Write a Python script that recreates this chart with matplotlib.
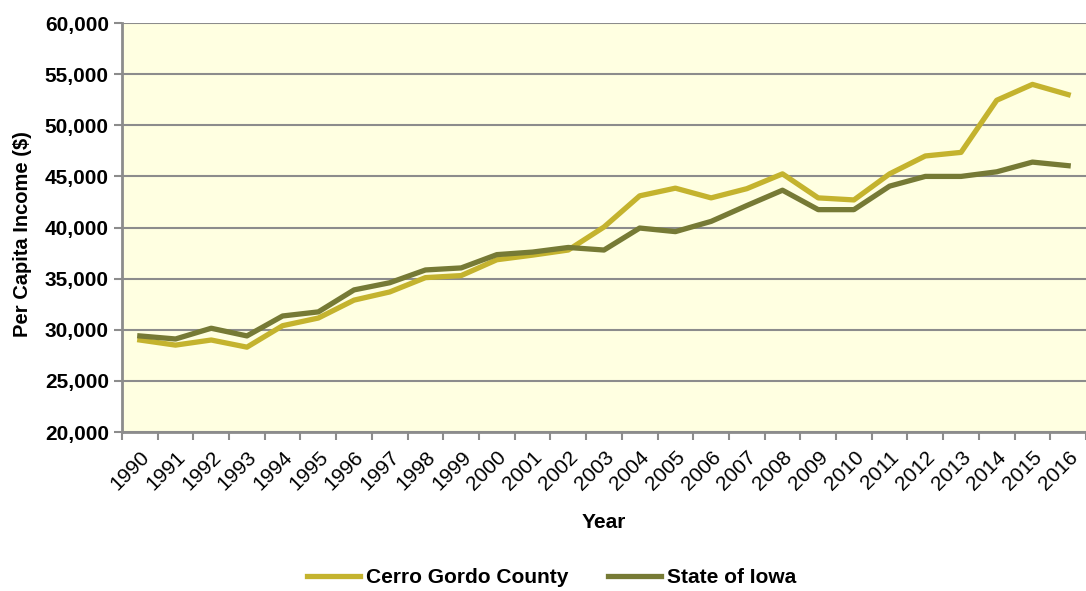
import matplotlib
matplotlib.use("Agg")
import matplotlib.pyplot as plt
from matplotlib.ticker import FuncFormatter, FixedLocator

plt.rcParams["font.family"] = ["Liberation Sans", "DejaVu Sans"]

# anos e renda per capita
anos = [str(a) for a in range(1990, 2017)]
cerro_gordo = [29000, 28500, 29000, 28300, 30400, 31150, 32900, 33700, 35100, 35300,
               36850, 37300, 37800, 40050, 43100, 43850, 42900, 43800, 45250, 42900,
               42700, 45250, 47000, 47350, 52450, 54000, 53000]
iowa = [29400, 29100, 30150, 29400, 31350, 31750, 33900, 34600, 35850, 36050,
        37350, 37600, 38050, 37800, 39950, 39600, 40600, 42150, 43650, 41750,
        41750, 44050, 45000, 45000, 45450, 46400, 46050]

cor_cg = "#C4B32E"
cor_ia = "#767A35"
cinza = "#8C8C8C"

fig = plt.figure(figsize=(10.86, 5.91), dpi=100)
ax = fig.add_axes([0.1123, 0.269, 0.8877, 0.692])
ax.set_facecolor("#FFFFE1")

x = list(range(len(anos)))
ax.plot(x, cerro_gordo, color=cor_cg, lw=3.8, label="Cerro Gordo County")
ax.plot(x, iowa, color=cor_ia, lw=3.8, label="State of Iowa")

ax.set_ylim(20000, 60000)
ax.set_xlim(-0.5, len(anos) - 0.5)
ax.set_yticks(range(20000, 60001, 5000))
ax.yaxis.set_major_formatter(FuncFormatter(lambda v, p: f"{int(v):,}"))
ax.grid(axis="y", color=cinza, lw=1.5)
ax.set_axisbelow(True)

# marcas entre categorias, rótulos no centro
ax.xaxis.set_major_locator(FixedLocator([i - 0.5 for i in range(len(anos) + 1)]))
ax.xaxis.set_major_formatter(FuncFormatter(lambda v, p: ""))
ax.xaxis.set_minor_locator(FixedLocator(x))
ax.set_xticklabels(anos, minor=True, rotation=45, ha="right", rotation_mode="anchor", fontsize=15)
ax.tick_params(axis="x", which="minor", length=0, pad=11)
ax.tick_params(axis="x", which="major", length=6, width=1.5, color=cinza)
ax.tick_params(axis="y", length=6, width=1.5, color=cinza, labelsize=15)
for lbl in ax.get_yticklabels():
    lbl.set_fontweight("bold")

for s in ["top", "right"]:
    ax.spines[s].set_visible(False)
for s in ["left", "bottom"]:
    ax.spines[s].set_color(cinza)
    ax.spines[s].set_linewidth(2)

ax.set_ylabel("Per Capita Income ($)", fontsize=14.5, fontweight="bold")
ax.yaxis.set_label_coords(-0.093, 0.485)
ax.set_xlabel("Year", fontsize=15, fontweight="bold", labelpad=14)

fig.legend(loc="center", bbox_to_anchor=(0.508, 0.022), ncol=2, frameon=False,
           prop={"weight": "bold", "size": 15}, handlelength=2.55, columnspacing=1.9,
           handletextpad=0.3)

plt.savefig("out.png", dpi=100)
